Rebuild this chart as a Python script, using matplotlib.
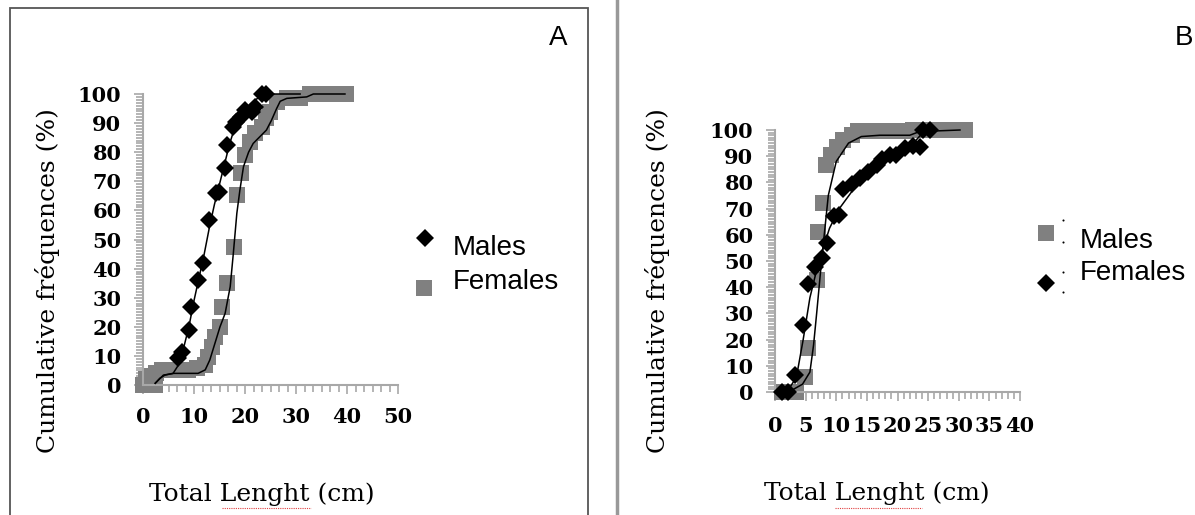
import numpy as np
import matplotlib
matplotlib.use("Agg")
import matplotlib.pyplot as plt
from matplotlib.ticker import MultipleLocator
from matplotlib.lines import Line2D
from matplotlib.patches import Rectangle

# Panel A : cumulative frequencies
a_male_x = [6.9, 7.6, 9.1, 9.5, 10.8, 11.8, 12.9, 14.4, 14.9, 16.1, 16.4, 17.7, 18.3,
            19.3, 20.0, 21.3, 22.0, 23.3, 24.2]
a_male_y = [9.2, 11.5, 18.9, 26.9, 36.0, 42.0, 56.7, 66.0, 66.4, 74.5, 82.5, 88.8, 90.5,
            92.2, 94.5, 93.9, 95.5, 100, 100]
a_fem_x = [0, 0.8, 1.6, 2.4, 0.5, 1.5, 2.5, 3.7, 5.3, 7.3, 8.9, 10.5, 12.2, 12.8, 13.5,
           14.1, 15.0, 15.4, 16.4, 17.8, 18.5, 19.3, 20.0, 21.0, 22.0, 23.3, 24.2, 24.9,
           26.2, 28.2, 30.8, 32.7, 34.7, 36.7, 38.6, 39.9]
a_fem_y = [0, 0, 0, 0, 2, 3, 4, 5.2, 5.2, 5.2, 5.2, 5.7, 6.9, 9.7, 13.2, 16.6, 20, 26.9,
           34.9, 47.5, 65.3, 72.7, 79, 83.6, 86.5, 88.8, 91.6, 93.9, 97.4, 98.5, 98.5,
           100, 100, 100, 100, 100]
a_male_fit_x = [2.4, 3.3, 4.3, 5.9, 7.0, 8.0, 9.0, 10.0, 11.0, 12.0, 13.0, 14.0, 15.0,
                16.0, 17.0, 18.0, 19.0, 20.0, 21.0, 22.0, 23.0, 24.2, 30.8]
a_male_fit_y = [0.6, 2.3, 3.4, 4.0, 7, 13, 20, 29, 37, 45, 54, 62, 69, 76, 83, 88.5, 92,
                94.5, 96.5, 98, 99, 100, 100]
a_fem_fit_x = [2.4, 4.0, 6.0, 8.0, 10.8, 12.2, 13.1, 14.1, 15.1, 16.1, 17.1, 17.7, 18.4,
               19.0, 19.7, 20.7, 21.6, 22.9, 24.2, 25.2, 26.2, 26.9, 28.2, 32.1, 33.4, 39.6]
a_fem_fit_y = [0.6, 3.4, 4.0, 4.0, 4.0, 5.2, 8.6, 14.3, 20, 24.6, 33.8, 45, 59, 67, 75,
               80, 83, 85.3, 87.6, 91, 95, 97.5, 98.5, 99, 100, 100]

# Panel B
b_male_x = [1.1, 2.4, 3.5, 4.9, 5.4, 6.8, 7.0, 7.8, 8.4, 9.2, 10.1, 11.1, 12.5, 13.5,
            15.0, 16.5, 18.0, 19.5, 21.0, 22.5, 24.0, 25.5, 27.0, 28.5, 30.0, 31.0]
b_male_y = [0, 0, 0, 5.9, 16.7, 42.7, 61.2, 72, 86.6, 90.5, 93.6, 96.2, 98, 99.5,
            99.5, 99.5, 99.5, 99.5, 99.5, 100, 100, 100, 100, 100, 100, 100]
b_fem_x = [1.1, 2.2, 3.2, 4.6, 5.4, 6.5, 7.6, 8.5, 9.7, 10.5, 11.1, 12.5, 13.9, 15.2,
           16.6, 17.4, 18.8, 19.8, 21.2, 22.6, 23.6, 24.2, 25.3]
b_fem_y = [0, 0, 6.4, 25.5, 41.4, 47.8, 51, 57, 67, 67.5, 77.5, 79.5, 81.5, 84,
           86.5, 89, 90.5, 90.5, 93, 94, 93.6, 100, 100]
b_male_fit_x = [1.1, 3.0, 4.5, 5.7, 6.3, 6.8, 7.6, 8.7, 10.0, 12.0, 14.1, 17.1, 22.0,
                23.6, 30.2]
b_male_fit_y = [0, 1, 3, 7.6, 18, 30, 50, 75, 88, 95, 97.5, 98, 98, 99.4, 100]
b_fem_fit_x = [1.1, 2.5, 3.5, 4.6, 5.7, 7.0, 8.9, 10.5, 12.7, 15.0, 17.0, 19.0, 21.0,
               23.0, 24.5]
b_fem_fit_y = [0, 2, 5.7, 20, 36, 48.5, 62.5, 70, 77, 82, 86, 90, 93, 96, 100]

axis_label = "Cumulative fréquences (%)"
x_label = "Total Lenght (cm)"

plt.rcParams['font.family'] = 'DejaVu Serif'
plt.rcParams['font.weight'] = 'bold'
plt.rcParams['xtick.labelsize'] = 15
plt.rcParams['ytick.labelsize'] = 15

fig = plt.figure(figsize=(11.95, 5.15), dpi=100)
W, H = 1195.0, 515.0

lab_font = dict(family="DejaVu Serif", weight="normal", size=18)
leg_font = dict(family="Liberation Sans", weight="normal", size=20)
GREY = "#808080"
TICKC = "#a8a8a8"
DMS = 9      # diamond size
SMS = 11     # square size


def make_axes(rect, xmax, xmajor, xminor, xpad):
    ax = fig.add_axes(rect)
    ax.set_xlim(0, xmax)
    ax.set_ylim(0, 100)
    for s in ["top", "right"]:
        ax.spines[s].set_visible(False)
    for s in ["left", "bottom"]:
        ax.spines[s].set_color(TICKC)
        ax.spines[s].set_linewidth(1.5)
    ax.xaxis.set_major_locator(MultipleLocator(xmajor))
    ax.xaxis.set_minor_locator(MultipleLocator(xminor))
    ax.yaxis.set_major_locator(MultipleLocator(10))
    ax.yaxis.set_minor_locator(MultipleLocator(1))
    ax.tick_params(which="both", direction="out", color=TICKC, width=1.2)
    ax.tick_params(which="major", length=6.5)
    ax.tick_params(which="minor", length=5)
    ax.tick_params(axis="y", which="major", pad=9)
    ax.tick_params(axis="x", which="major", pad=xpad)
    ax.patch.set_alpha(0)
    return ax


# ---- panel A
axA = make_axes([143 / W, 1 - 385 / H, 255 / W, 291 / H], 50, 10, 50 / 30, 9)
axA.plot(a_fem_x, a_fem_y, "s", color=GREY, ms=SMS, mew=0, clip_on=False, zorder=2)
axA.plot(a_male_x, a_male_y, "D", color="black", ms=DMS, mew=0, clip_on=False, zorder=3)
axA.plot(a_male_fit_x, a_male_fit_y, "-", color="black", lw=1.1, clip_on=False, zorder=4)
axA.plot(a_fem_fit_x, a_fem_fit_y, "-", color="black", lw=1.1, clip_on=False, zorder=4)

# ---- panel B
axB = make_axes([775 / W, 1 - 392 / H, 245 / W, 262 / H], 40, 5, 1, 11)
axB.plot(b_male_x, b_male_y, "s", color=GREY, ms=SMS, mew=0, clip_on=False, zorder=2)
axB.plot(b_fem_x, b_fem_y, "D", color="black", ms=DMS, mew=0, clip_on=False, zorder=3)
axB.plot(b_male_fit_x, b_male_fit_y, "-", color="black", lw=1.1, clip_on=False, zorder=4)
axB.plot(b_fem_fit_x, b_fem_fit_y, "-", color="black", lw=1.1, clip_on=False, zorder=4)

# axis titles
fig.text(48 / W, 1 - 281 / H, axis_label, rotation=90, ha="center", va="center", **lab_font)
fig.text(262 / W, 1 - 494 / H, x_label, ha="center", va="center", **lab_font)
fig.text(657 / W, 1 - 281 / H, axis_label, rotation=90, ha="center", va="center", **lab_font)
fig.text(877 / W, 1 - 493 / H, x_label, ha="center", va="center", **lab_font)

# spell-check underline under "Lenght"
for x0, x1 in [(222, 311), (835, 922)]:
    fig.add_artist(Line2D([x0 / W, x1 / W], [1 - 508 / H] * 2, color="#e04040",
                          lw=0.8, ls=(0, (1, 1))))

# legends
fig.add_artist(Line2D([425 / W], [1 - 238 / H], marker="D", color="black", ms=DMS, mew=0))
fig.add_artist(Line2D([424 / W], [1 - 288 / H], marker="s", color=GREY, ms=SMS, mew=0))
fig.text(453 / W, 1 - 255 / H, "Males", ha="left", va="baseline", **leg_font)
fig.text(453 / W, 1 - 289 / H, "Females", ha="left", va="baseline", **leg_font)

fig.add_artist(Line2D([1046 / W], [1 - 233 / H], marker="s", color=GREY, ms=SMS, mew=0))
fig.add_artist(Line2D([1046 / W], [1 - 283 / H], marker="D", color="black", ms=DMS, mew=0))
for yy in [220, 242, 272, 292]:
    fig.add_artist(Line2D([1063 / W], [1 - yy / H], marker="o", color="black", ms=1.5, mew=0))
fig.text(1080 / W, 1 - 248 / H, "Males", ha="left", va="baseline", **leg_font)
fig.text(1080 / W, 1 - 280 / H, "Females", ha="left", va="baseline", **leg_font)

# panel letters
fig.text(558 / W, 1 - 38 / H, "A", ha="center", va="center", **leg_font)
fig.text(1184 / W, 1 - 38 / H, "B", ha="center", va="center", **leg_font)

# frames
fig.add_artist(Rectangle((10 / W, -0.05), 578 / W, 1.05 - 8 / H, transform=fig.transFigure,
                         fill=False, ec="#555555", lw=1.3))
fig.add_artist(Line2D([617 / W] * 2, [0, 1], color="#999999", lw=2.5))

fig.savefig("out.png", dpi=100)
